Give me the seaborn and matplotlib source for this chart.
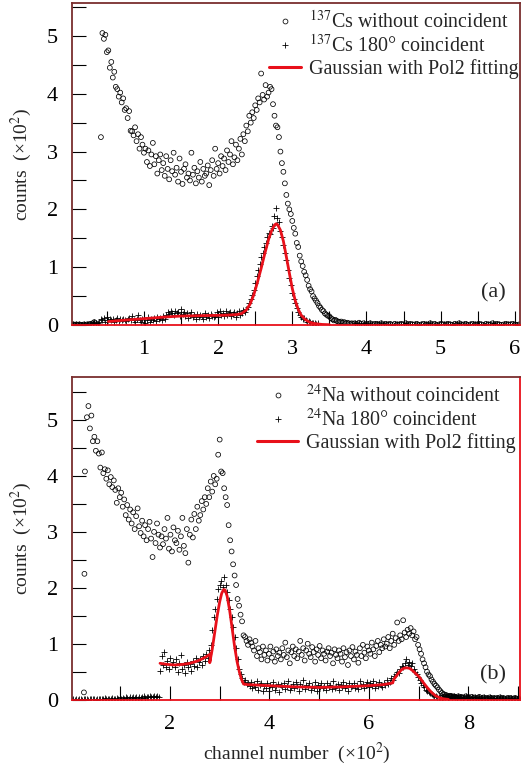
"""Two-panel gamma spectra (137Cs / 24Na), with and without 180 deg coincidence."""
import numpy as np
import pandas as pd
import matplotlib
matplotlib.use("Agg")
import matplotlib.pyplot as plt
from matplotlib.lines import Line2D
from matplotlib.ticker import MultipleLocator
import seaborn as sns

# ---- data (x in channel/100, y in counts/100) ----
# 137Cs without coincidence, x = 0.42 + 0.02*i
CS_WO = [3.25,
         5.05, 4.95, 5.02, 4.72, 4.75, 4.45, 4.55, 4.28, 4.38, 4.12,
         4.08, 3.95, 4.02, 3.85, 3.92, 3.72, 3.75, 3.58, 3.70, 3.36,
         3.35, 3.28, 3.42, 3.18, 3.30, 3.05, 3.25, 3.12, 2.98, 3.05,
         2.82, 3.02, 2.75, 2.95, 3.15, 2.78, 2.92, 2.62, 2.85, 2.95,
         2.68, 2.80, 2.58, 2.92, 2.70, 2.52, 2.85, 2.66, 2.98, 2.60,
         2.72, 2.48, 2.88, 2.65, 2.44, 2.70, 2.78, 2.55, 2.62, 2.50,
         2.98, 2.60, 2.72, 2.45, 2.66, 2.55, 2.82, 2.48, 2.70, 2.58,
         2.62, 2.76, 2.42, 2.68, 2.85, 2.58, 3.05, 2.70, 2.80, 2.62,
         2.92, 2.75, 2.88, 2.68, 3.02, 2.82, 2.95, 3.18, 2.78, 2.90,
         3.12, 2.85, 3.05, 3.22, 2.95, 3.30, 3.18, 3.45, 3.35, 3.62,
         3.50, 3.68, 3.58, 3.80, 3.72, 3.92, 3.85, 4.35, 3.98, 3.90,
         4.15, 3.95, 4.02, 4.12, 4.08, 3.82, 3.62, 3.45, 3.42, 3.25,
         3.00, 2.80, 2.65, 2.45, 2.25, 2.10, 2.00, 1.92, 1.80, 1.68,
         1.58, 1.42, 1.35, 1.20, 1.10, 1.02, 0.92, 0.86, 0.78, 0.68,
         0.62, 0.58, 0.50, 0.46, 0.42, 0.38, 0.33, 0.30, 0.26, 0.24,
         0.20, 0.18, 0.16, 0.15, 0.12, 0.10, 0.08, 0.09, 0.07, 0.06,
         0.05, 0.06, 0.04, 0.05, 0.03, 0.04, 0.03, 0.02, 0.03, 0.02]
# 137Cs 180 deg coincidence, x = 0.36 + 0.02*i
CS_180 = [0.02, 0.04, 0.06, 0.10, 0.08, 0.12, 0.05, 0.14, 0.09, 0.11,
          0.08, 0.10, 0.06, 0.09, 0.12, 0.07, 0.10, 0.08, 0.11, 0.09,
          0.07, 0.10, 0.12, 0.08, 0.15, 0.09, 0.06, 0.11, 0.18, 0.08,
          0.05, 0.10, 0.12, 0.04, 0.09, 0.13, 0.06, 0.10, 0.08, 0.12,
          0.07, 0.14, 0.10, 0.12, 0.09, 0.15, 0.11, 0.18, 0.22, 0.19,
          0.24, 0.21, 0.18, 0.25, 0.20, 0.23, 0.16, 0.27, 0.19, 0.22,
          0.15, 0.20, 0.12, 0.18, 0.22, 0.14, 0.17, 0.10, 0.19, 0.13,
          0.18, 0.15, 0.11, 0.20, 0.14, 0.17, 0.12, 0.19, 0.15, 0.13,
          0.16, 0.22, 0.14, 0.25, 0.18, 0.21, 0.15, 0.24, 0.17, 0.20,
          0.22, 0.16, 0.19, 0.23, 0.14, 0.20, 0.24, 0.18, 0.21, 0.26,
          0.22, 0.28, 0.32, 0.38, 0.45, 0.52, 0.60, 0.72, 0.85, 0.95,
          1.05, 1.18, 1.25, 1.35, 1.42, 1.52, 1.60, 1.58, 1.72, 1.68,
          1.88, 2.02, 1.85, 1.78, 1.62, 1.52, 1.38, 1.25, 1.12, 0.95,
          0.82, 0.70, 0.55, 0.45, 0.38, 0.30, 0.22, 0.18, 0.14, 0.10,
          0.12, 0.08, 0.06, 0.07, 0.05, 0.04, 0.03, 0.04, 0.02, 0.03]
# near-zero channels, both series: x = 0.03 + 0.02*i and x = 3.84 + 0.03*i
CS_HEAD = [0.00, 0.01, 0.00, 0.01, 0.00, 0.01, 0.00, 0.00, 0.01, 0.00,
           0.01, 0.00, 0.02, 0.01, 0.03, 0.05, 0.03]
CS_TAIL = [0.03, 0.02, 0.04, 0.02, 0.03, 0.01, 0.02, 0.03, 0.01, 0.02,
           0.02, 0.01, 0.03, 0.01, 0.02, 0.01, 0.02, 0.00, 0.02, 0.01,
           0.01, 0.02, 0.01, 0.03, 0.01, 0.02, 0.01, 0.01, 0.02, 0.00,
           0.01, 0.02, 0.01, 0.01, 0.03, 0.01, 0.02, 0.00, 0.01, 0.02,
           0.01, 0.01, 0.02, 0.01, 0.00, 0.02, 0.01, 0.03, 0.01, 0.01,
           0.02, 0.00, 0.01, 0.02, 0.01, 0.01, 0.02, 0.01, 0.00, 0.02,
           0.01, 0.01, 0.03, 0.01, 0.02, 0.01, 0.00, 0.01, 0.02, 0.01,
           0.01, 0.02, 0.01, 0.00, 0.01]
# Gaussian + pol2 fit curve (a)
CS_FIT_X = [0.52, 0.70, 0.90, 1.10, 1.30, 1.50, 1.70, 1.90, 2.10, 2.25, 2.32,
            2.38, 2.43, 2.48, 2.53, 2.58, 2.63, 2.68, 2.72, 2.76, 2.78, 2.80,
            2.84, 2.88, 2.92, 2.96, 3.00, 3.04, 3.08, 3.12, 3.17, 3.23, 3.30,
            3.40, 3.50]
CS_FIT_Y = [0.06, 0.08, 0.10, 0.12, 0.14, 0.155, 0.16, 0.165, 0.17, 0.18, 0.20,
            0.26, 0.36, 0.52, 0.74, 0.98, 1.24, 1.48, 1.63, 1.73, 1.75, 1.74,
            1.64, 1.45, 1.18, 0.90, 0.63, 0.42, 0.27, 0.17, 0.10, 0.05, 0.025,
            0.01, 0.005]

# 24Na without coincidence: first channels, then x = 0.33 + 0.03*i
NA_EDGE_X = [0.27, 0.28, 0.29]
NA_EDGE_Y = [0.13, 2.25, 4.08]
NA_WO = [5.05, 5.25, 4.85, 5.08, 4.62, 4.70, 4.45, 4.62, 4.40, 4.15,
         4.42, 4.05, 4.12, 3.95, 4.10, 3.85, 3.98, 3.80, 3.92, 3.75,
         3.52, 3.78, 3.62, 3.70, 3.45, 3.58, 3.30, 3.48, 3.22, 3.40,
         3.15, 3.35, 3.05, 3.28, 3.42, 3.10, 2.98, 3.20, 2.92, 3.12,
         2.85, 3.05, 3.18, 2.88, 2.55, 3.00, 2.80, 3.15, 2.95, 2.72,
         2.92, 2.78, 3.05, 2.88, 3.25, 2.70, 2.95, 2.65, 3.08, 2.85,
         2.80, 3.02, 2.68, 2.92, 3.25, 2.75, 2.62, 3.05, 2.45, 2.95,
         3.22, 2.90, 3.32, 3.05, 3.45, 3.20, 3.30, 3.55, 3.40, 3.62,
         3.50, 3.78, 3.62, 3.90, 3.72, 4.00, 3.85, 3.95, 4.38, 4.65,
         4.08, 4.05, 3.78, 3.62, 3.48, 3.12, 2.85, 2.65, 2.42, 2.22,
         2.05, 1.80, 1.68, 1.52, 1.40, 1.15, 1.12, 1.05, 0.98, 1.08,
         1.02, 0.95, 0.88, 1.05, 0.78, 0.92, 0.85, 0.72, 0.95, 0.80,
         0.88, 0.70, 0.82, 0.95, 0.75, 0.86, 0.68, 0.90, 0.78, 0.84,
         0.72, 0.92, 0.80, 1.02, 0.76, 0.88, 0.65, 0.85, 0.95, 0.78,
         0.90, 0.74, 0.86, 1.05, 0.80, 0.92, 0.70, 0.88, 1.00, 0.82,
         0.76, 0.94, 0.85, 0.68, 0.90, 0.80, 0.96, 0.74, 0.88, 0.82,
         0.70, 0.86, 0.92, 0.78, 0.84, 0.65, 0.90, 0.80, 0.74, 0.88,
         0.82, 0.68, 0.92, 0.76, 0.85, 0.62, 0.88, 0.78, 0.94, 0.72,
         0.86, 0.80, 0.66, 0.92, 0.78, 0.98, 0.84, 0.74, 0.95, 0.88,
         0.82, 1.02, 0.90, 0.78, 0.96, 1.05, 0.85, 0.98, 0.92, 1.08,
         0.95, 1.00, 1.12, 0.92, 1.05, 1.18, 0.98, 1.10, 1.38, 1.05,
         1.15, 1.08, 1.42, 1.20, 1.12, 1.25, 1.18, 1.28, 1.15, 1.22,
         1.08, 1.12, 0.98, 0.90, 0.82, 0.72, 0.65, 0.58, 0.50, 0.45,
         0.42, 0.36, 0.32, 0.28, 0.25, 0.22, 0.18, 0.15, 0.12, 0.10,
         0.09, 0.08, 0.06, 0.07, 0.05, 0.04, 0.05, 0.03, 0.04, 0.03]
# 24Na 180 deg coincidence: x = 0.03 + 0.03*i (below threshold), then x = 1.80 + 0.03*i
NA_HEAD = [0.00, 0.01, 0.00, 0.01, 0.00, 0.01, 0.01, 0.00, 0.01, 0.02,
           0.01, 0.00, 0.02, 0.01, 0.01, 0.02, 0.00, 0.01, 0.02, 0.01,
           0.02, 0.01, 0.03, 0.01, 0.02, 0.02, 0.01, 0.03, 0.02, 0.01,
           0.03, 0.02, 0.04, 0.02, 0.03, 0.02, 0.04, 0.03, 0.02, 0.04,
           0.03, 0.05, 0.03, 0.04, 0.02, 0.05, 0.03, 0.04, 0.06, 0.03,
           0.05, 0.04, 0.06, 0.04, 0.05, 0.07, 0.04, 0.06, 0.05]
NA_180 = [0.52, 0.78, 0.62, 0.85, 0.58, 0.70, 0.55, 0.75, 0.62, 0.68,
          0.58, 0.72, 0.50, 0.65, 0.80, 0.55, 0.62, 0.48, 0.68, 0.58,
          0.64, 0.52, 0.70, 0.60, 0.75, 0.58, 0.68, 0.72, 0.62, 0.78,
          0.70, 0.82, 0.75, 0.88, 0.98, 1.25, 1.48, 1.62, 1.80, 1.98,
          2.05, 2.12, 2.02, 2.20, 2.05, 1.92, 1.78, 1.62, 1.48, 1.30,
          1.12, 0.92, 0.72, 0.55, 0.45, 0.38, 0.32, 0.36, 0.28, 0.30,
          0.24, 0.32, 0.20, 0.28, 0.22, 0.34, 0.18, 0.26, 0.30, 0.15,
          0.25, 0.20, 0.30, 0.16, 0.27, 0.22, 0.32, 0.18, 0.24, 0.28,
          0.14, 0.26, 0.22, 0.30, 0.19, 0.25, 0.33, 0.17, 0.23, 0.28,
          0.20, 0.31, 0.24, 0.16, 0.28, 0.22, 0.35, 0.19, 0.27, 0.23,
          0.30, 0.18, 0.25, 0.21, 0.32, 0.15, 0.26, 0.22, 0.29, 0.20,
          0.24, 0.17, 0.30, 0.22, 0.27, 0.19, 0.33, 0.21, 0.25, 0.28,
          0.18, 0.26, 0.22, 0.31, 0.20, 0.27, 0.16, 0.29, 0.23, 0.25,
          0.30, 0.21, 0.27, 0.19, 0.33, 0.24, 0.28, 0.20, 0.26, 0.31,
          0.22, 0.29, 0.25, 0.34, 0.21, 0.28, 0.24, 0.32, 0.27, 0.23,
          0.30, 0.26, 0.35, 0.28, 0.32, 0.38, 0.36, 0.42, 0.45, 0.50,
          0.48, 0.55, 0.60, 0.58, 0.66, 0.72, 0.62, 0.68, 0.60, 0.65,
          0.55, 0.50, 0.46, 0.40, 0.35, 0.30, 0.26, 0.22, 0.18, 0.16,
          0.13, 0.12, 0.10, 0.08, 0.07, 0.06, 0.05, 0.05, 0.04, 0.03]
# near-zero tail, both series: x = 7.50 + 0.03*i
NA_TAIL = [0.05, 0.04, 0.06, 0.03, 0.05, 0.07, 0.04, 0.06, 0.05, 0.03,
           0.06, 0.04, 0.05, 0.03, 0.04, 0.06, 0.03, 0.04, 0.02, 0.05,
           0.03, 0.04, 0.02, 0.03, 0.05, 0.02, 0.03, 0.04, 0.02, 0.03,
           0.02, 0.04, 0.03, 0.02, 0.03, 0.01, 0.03, 0.02, 0.04, 0.02,
           0.03, 0.02, 0.01, 0.03, 0.02, 0.03, 0.01, 0.02, 0.03, 0.02,
           0.01, 0.02, 0.03]
# Gaussian + pol2 fit curve (b)
NA_FIT_X = [1.80, 1.95, 2.10, 2.25, 2.40, 2.55, 2.65, 2.75, 2.82, 2.80,
            2.85, 2.90, 2.95, 3.00, 3.04, 3.08, 3.11, 3.15, 3.20, 3.25,
            3.30, 3.35, 3.40, 3.44, 3.48, 3.55, 4.00, 4.50, 5.00, 5.50,
            6.00, 6.30, 6.48, 6.50, 6.55, 6.60, 6.65, 6.70, 6.76, 6.82,
            6.88, 6.95, 7.02, 7.10, 7.18, 7.26, 7.34, 7.42, 7.50, 7.60]
NA_FIT_Y = [0.65, 0.63, 0.62, 0.63, 0.65, 0.69, 0.73, 0.78, 0.82, 0.66,
            0.90, 1.20, 1.50, 1.75, 1.90, 1.97, 1.96, 1.85, 1.60, 1.28,
            0.95, 0.68, 0.48, 0.36, 0.28, 0.27, 0.25, 0.23, 0.22, 0.23,
            0.25, 0.27, 0.30, 0.36, 0.42, 0.48, 0.53, 0.56, 0.57, 0.56,
            0.52, 0.46, 0.40, 0.30, 0.21, 0.13, 0.07, 0.035, 0.015, 0.005]

LABELS_A = [r"$^{137}$Cs without coincident", r"$^{137}$Cs 180° coincident",
            "Gaussian with Pol2 fitting"]
LABELS_B = [r"$^{24}$Na without coincident", r"$^{24}$Na 180° coincident",
            "Gaussian with Pol2 fitting"]


def grid(x0, dx, ys):
    return pd.DataFrame({"x": np.round(x0 + dx * np.arange(len(ys)), 3), "y": ys})


# ---- style ----
MAROON, RED, INK = "#7a2e2e", "#e8101a", "#000000"
sns.set_theme(style="ticks")
plt.rcParams.update({
    "font.family": ["Liberation Serif", "DejaVu Serif"],
    "mathtext.fontset": "stix",
    "font.size": 14,
    "xtick.direction": "in", "ytick.direction": "in",
    "xtick.color": INK, "ytick.color": INK,
    "xtick.labelsize": 16, "ytick.labelsize": 16,
})

fig = plt.figure(figsize=(5.31, 7.66), dpi=100)
ax_a = fig.add_axes([0.1356, 0.5757, 0.8437, 0.4204])
ax_b = fig.add_axes([0.1356, 0.0866, 0.8437, 0.4213])

CIRC = dict(marker="o", s=12, facecolor="none", edgecolor=INK, linewidth=0.55, legend=False)
PLUS = dict(marker="+", s=18, color=INK, linewidth=0.6, legend=False)


def circles(ax, df):
    sns.scatterplot(data=df, x="x", y="y", ax=ax, **CIRC)


def pluses(ax, df):
    sns.scatterplot(data=df, x="x", y="y", ax=ax, **PLUS)


def fit(ax, xs, ys):
    sns.lineplot(x=xs, y=ys, ax=ax, sort=False, estimator=None, color=RED, linewidth=2.0)


# ---- (a) 137Cs ----
head_a, tail_a = grid(0.03, 0.02, CS_HEAD), grid(3.84, 0.03, CS_TAIL)
circles(ax_a, grid(0.42, 0.02, CS_WO))
circles(ax_a, head_a); circles(ax_a, tail_a)
pluses(ax_a, grid(0.36, 0.02, CS_180))
pluses(ax_a, head_a); pluses(ax_a, tail_a)
fit(ax_a, CS_FIT_X, CS_FIT_Y)
ax_a.set_xlim(0.03, 6.07); ax_a.set_ylim(0, 5.57)
ax_a.xaxis.set_major_locator(MultipleLocator(1)); ax_a.xaxis.set_minor_locator(MultipleLocator(0.5))

# ---- (b) 24Na ----
tail_b = grid(7.50, 0.03, NA_TAIL)
circles(ax_b, pd.DataFrame({"x": NA_EDGE_X, "y": NA_EDGE_Y}))
circles(ax_b, grid(0.33, 0.03, NA_WO))
circles(ax_b, tail_b)
pluses(ax_b, grid(0.03, 0.03, NA_HEAD))
pluses(ax_b, grid(1.80, 0.03, NA_180))
pluses(ax_b, tail_b)
fit(ax_b, NA_FIT_X, NA_FIT_Y)
ax_b.set_xlim(0.03, 9.04); ax_b.set_ylim(0, 5.77)
ax_b.xaxis.set_major_locator(MultipleLocator(2)); ax_b.xaxis.set_minor_locator(MultipleLocator(1))
ax_b.set_xlabel(r"channel number  (×10$^{2}$)", fontsize=14)
ax_b.xaxis.set_label_coords(0.502, -0.127)

for ax, labels, hx, hlen, tag, ty in [(ax_a, LABELS_A, 0.44, 1.6, "(a)", 0.099),
                                      (ax_b, LABELS_B, 0.413, 2.05, "(b)", 0.077)]:
    ax.yaxis.set_major_locator(MultipleLocator(1)); ax.yaxis.set_minor_locator(MultipleLocator(0.5))
    ax.tick_params(which="both", length=10, width=0.8, top=False, right=False)
    ax.tick_params(axis="x", which="both", pad=11)
    ax.tick_params(axis="y", which="both", pad=10)
    ax.grid(False)
    for side in ("top", "left", "right"):
        ax.spines[side].set_visible(True)
        ax.spines[side].set_color(MAROON); ax.spines[side].set_linewidth(1.3)
    ax.spines["bottom"].set_color(RED); ax.spines["bottom"].set_linewidth(1.3)
    ax.set_ylabel(r"counts  (×10$^{2}$)", fontsize=14)
    ax.yaxis.set_label_coords(-0.085, 0.5)
    if ax is ax_a:
        ax.set_xlabel("")
    handles = [Line2D([], [], ls="none", marker="o", mfc="none", mec=INK, ms=3.5, mew=0.55),
               Line2D([], [], ls="none", marker="+", color=INK, ms=4.2, mew=0.6),
               Line2D([], [], color=RED, lw=2.2)]
    ax.legend(handles, labels, loc="upper left", bbox_to_anchor=(hx, 0.975), frameon=False,
              borderpad=0, borderaxespad=0, handlelength=hlen, handletextpad=0.4,
              labelspacing=0.1, fontsize=14.4)
    ax.text(0.94, ty, tag, transform=ax.transAxes, ha="center", va="center", fontsize=16)

ax_b.spines["right"].set_color(RED)

fig.savefig("out.png", dpi=100)
